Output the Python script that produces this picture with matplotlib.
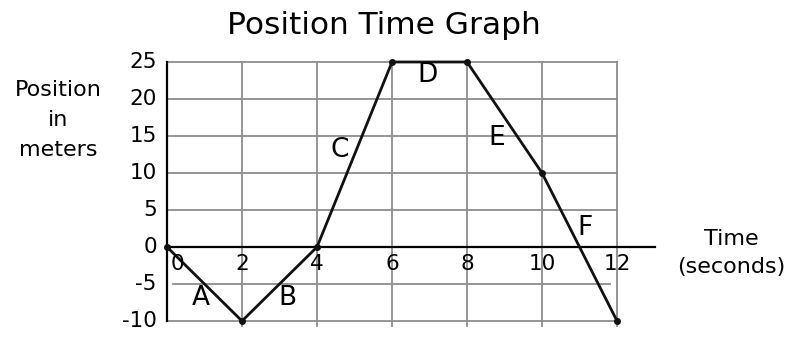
import numpy as np
import matplotlib.pyplot as plt

# position-time data (seconds, meters)
t = [0, 2, 4, 6, 8, 10, 12]
pos = [0, -10, 0, 25, 25, 10, -10]

x_ticks = [0, 2, 4, 6, 8, 10, 12]
y_ticks = [25, 20, 15, 10, 5, 0, -5, -10]

seg_labels = ['A', 'B', 'C', 'D', 'E', 'F']
seg_x = [0.9, 3.2, 4.6, 6.95, 8.8, 11.15]
seg_y = [-6.9, -6.9, 13.1, 23.2, 14.7, 2.6]

fig = plt.figure(figsize=(7.99, 3.37), dpi=100)
ax = fig.add_axes([0.1996, 0.0255, 0.629, 0.8125])
ax.set_xlim(-0.2, 13.2)
ax.set_ylim(-11, 26)
ax.axis('off')

grey = '#8c8c8c'
# vertical grid lines
for xv in x_ticks[1:]:
    ax.plot([xv, xv], [-10.7, 25], color=grey, lw=1.3, zorder=1)
# horizontal grid lines
for yv in [5, 10, 15, 20, 25, -10]:
    ax.plot([0, 12], [yv, yv], color=grey, lw=1.3, zorder=1)
ax.plot([0.15, 11.8], [-5, -5], color=grey, lw=1.3, zorder=1)

# axes lines
ax.plot([0, 0], [-10, 25], color='black', lw=1.6, zorder=2)
ax.plot([0, 13], [0, 0], color='black', lw=1.6, zorder=2)

# data
ax.plot(t, pos, color='#111111', lw=2, marker='o', markersize=4, zorder=3)

# tick labels
for yv in y_ticks:
    ax.text(-0.27, yv, str(yv), ha='right', va='center', fontsize=15.5)
for xv in x_ticks:
    xo = 0.27 if xv == 0 else xv
    ax.text(xo, -1.0, str(xv), ha='center', va='top', fontsize=15.5)

for lab, sx, sy in zip(seg_labels, seg_x, seg_y):
    ax.text(sx, sy, lab, ha='center', va='center', fontsize=19)

fig.text(0.481, 0.899, 'Position Time Graph', ha='center', va='baseline', fontsize=22.5)
fig.text(0.073, 0.644, 'Position\nin\nmeters', ha='center', va='center',
         fontsize=16, linespacing=1.6)
fig.text(0.915, 0.249, 'Time\n(seconds)', ha='center', va='center',
         fontsize=16, linespacing=1.45)

plt.savefig('out.png', dpi=100)
